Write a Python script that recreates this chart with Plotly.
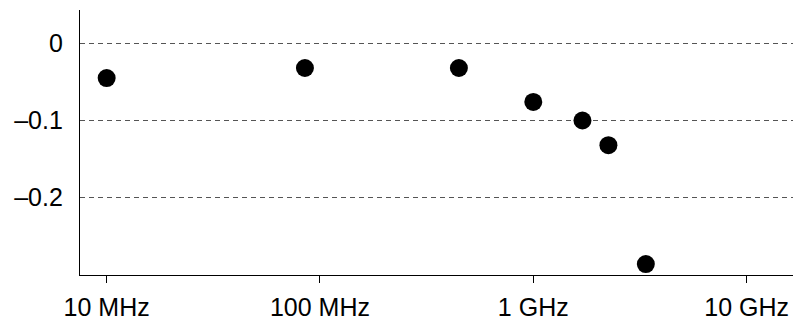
import plotly.graph_objects as go

# Data (frequency in Hz, value)
freq_hz = [10e6, 85e6, 448e6, 1.0e9, 1.70e9, 2.25e9, 3.37e9]
values = [-0.045, -0.032, -0.032, -0.076, -0.100, -0.132, -0.286]

x_tick_vals = [1e7, 1e8, 1e9, 1e10]
x_tick_text = ["10 MHz", "100 MHz", "1 GHz", "10 GHz"]
y_tick_vals = [0, -0.1, -0.2]
y_tick_text = ["0", "\u20130.1", "\u20130.2"]

fig = go.Figure()
fig.add_trace(go.Scatter(
    x=freq_hz, y=values, mode="markers",
    marker=dict(size=18, color="black", line=dict(width=0)),
    showlegend=False, hoverinfo="skip", cliponaxis=False,
))

font = dict(family="Liberation Sans, Arial, Helvetica, sans-serif", size=25, color="black")

fig.update_layout(
    width=796, height=320,
    margin=dict(l=80, r=3, t=10, b=45, autoexpand=False),
    paper_bgcolor="white", plot_bgcolor="white",
    font=font,
    xaxis=dict(
        type="log", range=[6.875, 10.2175],
        tickvals=x_tick_vals, ticktext=x_tick_text,
        ticks="outside", ticklen=7, tickwidth=1, tickcolor="black",
        showline=True, linecolor="black", linewidth=1.3,
        showgrid=False, zeroline=False, automargin=False,
        ticklabelstandoff=3,
        tickfont=font,
    ),
    yaxis=dict(
        range=[-0.3001, 0.0431],
        tickvals=y_tick_vals, ticktext=y_tick_text,
        ticks="", showline=True, linecolor="black", linewidth=1.3,
        showgrid=True, gridcolor="#555555", gridwidth=1, griddash="5px,4px",
        zeroline=False, ticklabelstandoff=11, automargin=False,
        tickfont=font,
    ),
)

fig.write_html(
    "out.html",
    config={"displayModeBar": False},
    post_script="document.body.style.margin='0';document.body.style.overflow='hidden';",
)
